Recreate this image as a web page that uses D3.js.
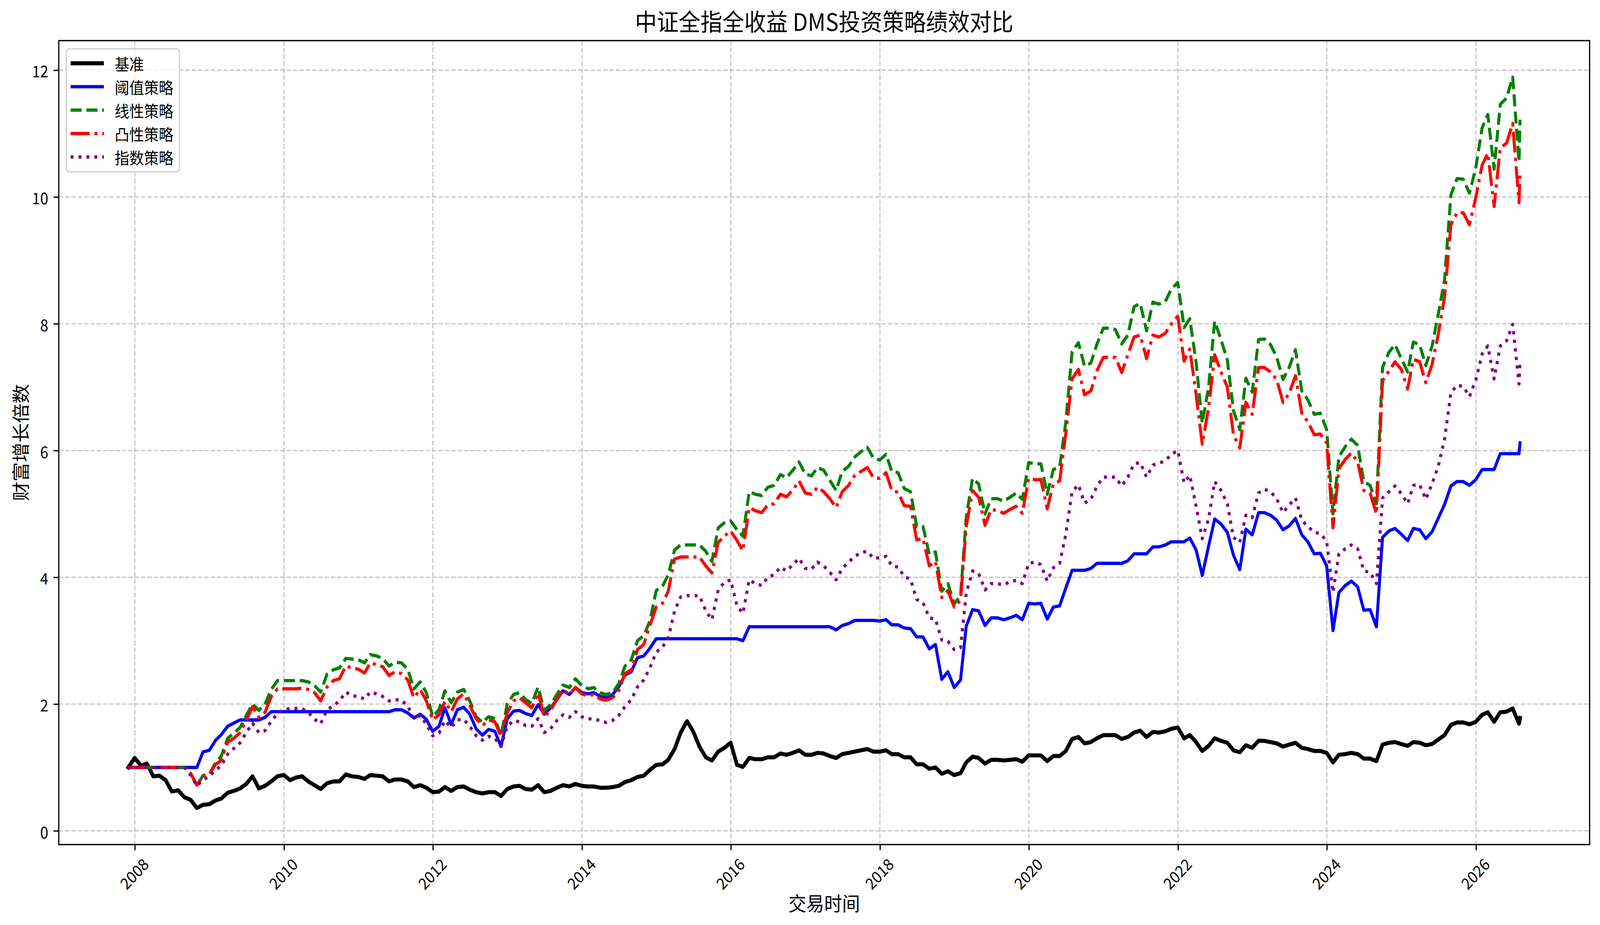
<!DOCTYPE html>
<html>
<head>
<meta charset="utf-8">
<script src="https://cdn.jsdelivr.net/npm/d3@7/dist/d3.min.js"></script>
<style>
  html, body { margin: 0; padding: 0; background: #ffffff; width: 100%; height: 100%; overflow: hidden; }
  svg { display: block; width: 100vw; height: 100vh; }
  text { font-family: "Noto Sans CJK SC", "Noto Sans", sans-serif; fill: #000; }
</style>
</head>
<body>
<svg id="chart"></svg>
<script>
// ---------------- DATA ----------------
const titleText = "中证全指全收益 DMS投资策略绩效对比";
const xLabelText = "交易时间";
const yLabelText = "财富增长倍数";
const seriesNames = ["基准", "阈值策略", "线性策略", "凸性策略", "指数策略"];
const seriesColors = ["#000000", "#0000ff", "#008000", "#ff0000", "#800080"];

// monthly observations (month-end) from 2007-11 to 2026-07, plus a final observation
const firstMonthEnd = [2007, 11];
const lastMonthEnd = [2026, 7];
const finalDate = "2026-08-05";

const yTickValues = [0, 2, 4, 6, 8, 10, 12];
const xTickYears = [2008, 2010, 2012, 2014, 2016, 2018, 2020, 2022, 2024, 2026];

const benchmark = [
  1.00,1.15,
  1.03,1.06,0.86,0.87,0.80,0.62,0.64,0.53,0.49,0.36,0.41,0.42,
  0.48,0.51,0.60,0.63,0.67,0.74,0.86,0.67,0.71,0.78,0.86,0.88,
  0.80,0.84,0.86,0.78,0.72,0.66,0.75,0.78,0.78,0.89,0.86,0.85,
  0.82,0.88,0.87,0.86,0.78,0.81,0.81,0.78,0.69,0.72,0.68,0.61,
  0.62,0.69,0.63,0.69,0.70,0.65,0.61,0.59,0.61,0.61,0.55,0.66,
  0.70,0.71,0.66,0.65,0.72,0.61,0.63,0.68,0.72,0.70,0.74,0.71,
  0.70,0.70,0.68,0.68,0.69,0.71,0.77,0.80,0.85,0.87,0.96,1.04,
  1.05,1.12,1.29,1.55,1.73,1.57,1.33,1.16,1.11,1.25,1.31,1.39,
  1.04,1.01,1.15,1.13,1.13,1.16,1.16,1.22,1.20,1.23,1.27,1.20,
  1.20,1.23,1.22,1.18,1.15,1.21,1.23,1.25,1.27,1.29,1.25,1.25,
  1.27,1.21,1.21,1.16,1.16,1.05,1.05,0.98,1.00,0.90,0.94,0.88,
  0.91,1.08,1.17,1.15,1.06,1.12,1.12,1.11,1.12,1.13,1.09,1.19,
  1.19,1.19,1.10,1.18,1.18,1.26,1.45,1.48,1.38,1.40,1.46,1.51,
  1.51,1.51,1.45,1.48,1.55,1.58,1.48,1.56,1.55,1.57,1.61,1.63,
  1.46,1.51,1.40,1.26,1.34,1.46,1.42,1.39,1.27,1.24,1.35,1.31,
  1.42,1.42,1.40,1.38,1.33,1.36,1.39,1.31,1.29,1.26,1.26,1.23,
  1.08,1.20,1.21,1.23,1.21,1.14,1.14,1.10,1.36,1.39,1.40,1.37,
  1.34,1.40,1.39,1.35,1.37,1.44,1.51,1.67,1.71,1.71,1.68,1.72,
  1.83,1.87,1.72,1.87,1.88,1.93,1.69,1.78
];

const thresholdStrategy = [
  1.00,1.00,
  1.00,1.00,1.00,1.00,1.00,1.00,1.00,1.00,1.00,1.00,1.245,1.27,
  1.43,1.52,1.65,1.70,1.75,1.75,1.75,1.75,1.79,1.88,1.88,1.88,
  1.88,1.88,1.88,1.88,1.88,1.88,1.88,1.88,1.88,1.88,1.88,1.88,
  1.88,1.88,1.88,1.88,1.88,1.91,1.91,1.86,1.78,1.84,1.76,1.57,
  1.65,1.94,1.68,1.91,1.95,1.84,1.61,1.51,1.60,1.57,1.33,1.77,
  1.89,1.90,1.85,1.82,1.99,1.84,1.94,2.07,2.21,2.15,2.26,2.18,
  2.16,2.18,2.12,2.10,2.15,2.27,2.46,2.51,2.73,2.76,2.88,3.03,
  3.03,3.03,3.03,3.03,3.03,3.03,3.03,3.03,3.03,3.03,3.03,3.03,
  3.03,3.00,3.22,3.22,3.22,3.22,3.22,3.22,3.22,3.22,3.22,3.22,
  3.22,3.22,3.22,3.22,3.17,3.24,3.27,3.32,3.32,3.32,3.32,3.31,
  3.33,3.25,3.25,3.20,3.19,3.06,3.06,2.87,2.94,2.39,2.51,2.26,
  2.38,3.23,3.49,3.47,3.24,3.36,3.36,3.33,3.36,3.40,3.33,3.59,
  3.58,3.59,3.34,3.53,3.55,3.83,4.11,4.11,4.11,4.14,4.22,4.22,
  4.22,4.22,4.22,4.26,4.37,4.37,4.37,4.48,4.48,4.51,4.56,4.56,
  4.56,4.62,4.43,4.03,4.49,4.92,4.84,4.71,4.35,4.12,4.76,4.67,
  5.02,5.02,4.98,4.90,4.75,4.81,4.93,4.67,4.56,4.37,4.38,4.18,
  3.16,3.76,3.87,3.94,3.85,3.48,3.49,3.22,4.63,4.73,4.77,4.68,
  4.58,4.77,4.75,4.61,4.72,4.93,5.15,5.44,5.51,5.51,5.45,5.54,
  5.70,5.70,5.70,5.95,5.95,5.95,5.95,6.12
];

const linearStrategy = [
  1.00,1.00,
  1.00,1.00,1.00,1.00,1.00,1.00,1.00,1.00,0.91,0.72,0.87,0.89,
  1.08,1.18,1.46,1.54,1.63,1.82,2.00,1.90,2.00,2.23,2.37,2.37,
  2.37,2.37,2.37,2.35,2.29,2.19,2.47,2.54,2.57,2.72,2.71,2.70,
  2.65,2.78,2.76,2.72,2.60,2.66,2.65,2.55,2.24,2.35,2.18,1.80,
  1.91,2.21,2.02,2.19,2.23,2.05,1.80,1.71,1.80,1.77,1.50,2.01,
  2.15,2.18,2.07,2.01,2.27,1.90,1.99,2.15,2.30,2.26,2.40,2.29,
  2.24,2.26,2.18,2.15,2.18,2.32,2.60,2.70,3.00,3.08,3.31,3.79,
  3.86,4.04,4.43,4.51,4.51,4.51,4.51,4.41,4.25,4.78,4.86,4.89,
  4.75,4.65,5.35,5.31,5.29,5.42,5.45,5.62,5.57,5.69,5.82,5.63,
  5.60,5.73,5.69,5.53,5.37,5.67,5.75,5.90,5.98,6.05,5.88,5.85,
  5.94,5.67,5.65,5.40,5.35,4.80,4.80,4.36,4.40,3.78,3.90,3.58,
  3.71,4.95,5.56,5.47,5.00,5.24,5.24,5.20,5.26,5.33,5.23,5.81,
  5.79,5.79,5.31,5.70,5.74,6.45,7.56,7.70,7.33,7.38,7.68,7.93,
  7.93,7.91,7.68,7.82,8.27,8.32,7.89,8.34,8.31,8.35,8.55,8.65,
  7.94,8.08,7.39,6.43,7.00,8.04,7.75,7.43,6.63,6.33,7.14,6.92,
  7.75,7.76,7.67,7.47,7.12,7.31,7.59,6.94,6.80,6.57,6.59,6.33,
  5.00,5.90,6.06,6.18,6.08,5.51,5.45,5.16,7.31,7.55,7.67,7.45,
  7.24,7.71,7.67,7.34,7.65,8.15,8.69,10.03,10.29,10.28,10.06,10.46,
  11.09,11.30,10.44,11.46,11.56,11.89,10.56,11.22
];

const convexStrategy = [
  1.00,1.00,
  1.00,1.00,1.00,1.00,1.00,1.00,1.00,1.00,0.91,0.72,0.87,0.89,
  1.05,1.11,1.40,1.46,1.55,1.74,1.96,1.79,1.87,2.12,2.24,2.24,
  2.24,2.24,2.25,2.23,2.18,2.05,2.27,2.37,2.40,2.60,2.57,2.55,
  2.49,2.65,2.62,2.59,2.45,2.51,2.48,2.38,2.10,2.23,2.05,1.75,
  1.83,2.04,1.88,2.08,2.16,1.98,1.77,1.66,1.75,1.72,1.49,1.87,
  2.05,2.10,2.02,1.94,2.18,1.80,1.90,2.08,2.23,2.15,2.26,2.16,
  2.13,2.15,2.08,2.06,2.10,2.21,2.48,2.54,2.86,2.94,3.24,3.53,
  3.59,3.78,4.29,4.32,4.32,4.32,4.32,4.18,4.07,4.55,4.65,4.73,
  4.58,4.42,5.10,5.05,5.02,5.14,5.16,5.31,5.27,5.38,5.52,5.33,
  5.31,5.42,5.35,5.24,5.10,5.35,5.45,5.61,5.67,5.73,5.57,5.56,
  5.65,5.37,5.34,5.13,5.12,4.59,4.61,4.18,4.25,3.68,3.79,3.53,
  3.64,4.80,5.37,5.26,4.82,5.07,5.05,5.01,5.07,5.12,5.01,5.56,
  5.54,5.54,5.08,5.47,5.52,6.27,7.13,7.28,6.88,6.94,7.26,7.47,
  7.47,7.47,7.23,7.51,7.79,7.82,7.45,7.82,7.79,7.85,8.00,8.12,
  7.41,7.60,6.88,6.10,6.67,7.51,7.24,7.00,6.25,6.04,6.76,6.57,
  7.31,7.31,7.24,7.12,6.76,6.90,7.18,6.59,6.45,6.25,6.26,6.12,
  4.78,5.71,5.86,5.96,5.82,5.37,5.33,5.00,7.10,7.25,7.40,7.28,
  6.97,7.44,7.40,7.07,7.36,7.83,8.42,9.56,9.75,9.75,9.56,9.99,
  10.50,10.69,9.85,10.77,10.85,11.16,9.91,10.36
];

const exponentialStrategy = [
  1.00,1.00,
  1.00,1.00,1.00,1.00,1.00,1.00,1.00,1.00,0.88,0.71,0.80,0.86,
  0.96,1.03,1.21,1.30,1.39,1.55,1.70,1.55,1.58,1.73,1.85,1.91,
  1.93,1.93,1.93,1.87,1.76,1.69,1.91,1.97,2.05,2.19,2.13,2.12,
  2.08,2.19,2.16,2.12,2.05,2.07,2.06,1.97,1.77,1.82,1.68,1.50,
  1.54,1.74,1.63,1.75,1.76,1.65,1.50,1.43,1.49,1.46,1.33,1.65,
  1.74,1.72,1.66,1.65,1.77,1.55,1.61,1.74,1.83,1.79,1.88,1.80,
  1.77,1.76,1.74,1.71,1.74,1.82,1.96,2.07,2.27,2.38,2.57,2.82,
  2.90,3.04,3.47,3.69,3.71,3.71,3.71,3.47,3.33,3.80,3.92,3.96,
  3.55,3.43,3.96,3.90,3.87,4.00,4.04,4.16,4.10,4.20,4.30,4.14,
  4.13,4.24,4.18,4.08,3.96,4.14,4.24,4.33,4.39,4.41,4.30,4.31,
  4.33,4.18,4.16,4.01,3.97,3.65,3.60,3.36,3.34,3.01,2.99,2.86,
  2.89,3.75,4.10,4.06,3.80,3.90,3.90,3.88,3.93,3.95,3.90,4.22,
  4.24,4.20,3.94,4.15,4.22,4.68,5.35,5.46,5.17,5.23,5.44,5.58,
  5.58,5.58,5.44,5.58,5.79,5.81,5.58,5.77,5.80,5.84,5.94,6.00,
  5.49,5.61,5.12,4.61,4.92,5.51,5.37,5.16,4.63,4.55,4.98,4.94,
  5.33,5.39,5.35,5.24,5.02,5.14,5.25,4.90,4.80,4.71,4.69,4.57,
  3.76,4.37,4.45,4.51,4.45,4.10,4.08,3.90,5.25,5.35,5.44,5.32,
  5.16,5.45,5.46,5.23,5.48,5.75,6.18,6.91,7.03,7.01,6.85,7.11,
  7.52,7.65,7.13,7.65,7.73,7.99,7.05,7.38
];

// ---------------- BUILD ----------------
const W = 4466, H = 2369;
const margin = { left: 164, right: W - 4437, top: 104, bottom: H - 2163 };
const PT = 300 / 72; // px per point

// dates: month ends + final
const monthStarts = d3.timeMonth.range(
  new Date(firstMonthEnd[0], firstMonthEnd[1], 1),
  new Date(lastMonthEnd[0], lastMonthEnd[1], 2)
);
const dates = monthStarts.map(d => d3.timeDay.offset(d, -1));
dates.push(d3.timeParse("%Y-%m-%d")(finalDate));

const allSeries = [benchmark, thresholdStrategy, linearStrategy, convexStrategy, exponentialStrategy];
const styles = [
  { width: 2.5 * PT, dash: null },
  { width: 2 * PT, dash: null },
  { width: 2 * PT, dash: [3.7, 1.6].map(v => v * 2 * PT).join(",") },
  { width: 2 * PT, dash: [6.4, 1.6, 1, 1.6].map(v => v * 2 * PT).join(",") },
  { width: 2 * PT, dash: [1, 1.65].map(v => v * 2 * PT).join(",") }
];

const svg = d3.select("#chart")
  .attr("viewBox", `0 0 ${W} ${H}`)
  .attr("preserveAspectRatio", "none");
svg.append("rect").attr("width", W).attr("height", H).attr("fill", "#fff");

const plotL = margin.left, plotR = W - margin.right, plotT = margin.top, plotB = H - margin.bottom;

// x domain with 5% padding (matplotlib default)
const xExt = d3.extent(dates);
const xSpan = xExt[1] - xExt[0];
const x = d3.scaleTime()
  .domain([new Date(+xExt[0] - 0.05 * xSpan), new Date(+xExt[1] + 0.05 * xSpan)])
  .range([plotL, plotR]);

const allVals = allSeries.flat();
const yMin = d3.min(allVals), yMax = d3.max(allVals);
const ySpan = yMax - yMin;
const y = d3.scaleLinear()
  .domain([yMin - 0.05 * ySpan, yMax + 0.05 * ySpan])
  .range([plotB, plotT]);

const xTickDates = xTickYears.map(yr => new Date(yr, 0, 1));

// clip
svg.append("defs").append("clipPath").attr("id", "plotclip")
  .append("rect").attr("x", plotL).attr("y", plotT)
  .attr("width", plotR - plotL).attr("height", plotB - plotT);

// grid
const gridStyle = g => g.attr("stroke", "#b0b0b0").attr("stroke-opacity", 0.7)
  .attr("stroke-width", 0.8 * PT)
  .attr("stroke-dasharray", [3.7, 1.6].map(v => v * 0.8 * PT).join(","));
const grid = svg.append("g");
grid.selectAll("line.gx").data(xTickDates).enter().append("line")
  .attr("x1", d => x(d)).attr("x2", d => x(d)).attr("y1", plotT).attr("y2", plotB)
  .call(gridStyle);
grid.selectAll("line.gy").data(yTickValues).enter().append("line")
  .attr("x1", plotL).attr("x2", plotR).attr("y1", d => y(d)).attr("y2", d => y(d))
  .call(gridStyle);

// lines
const lineGen = d3.line().x((d, i) => x(dates[i])).y(d => y(d));
const linesG = svg.append("g").attr("clip-path", "url(#plotclip)");
allSeries.forEach((s, k) => {
  const p = linesG.append("path").datum(s)
    .attr("d", lineGen)
    .attr("fill", "none")
    .attr("stroke", seriesColors[k])
    .attr("stroke-width", styles[k].width)
    .attr("stroke-linejoin", "round")
    .attr("stroke-linecap", styles[k].dash ? "butt" : "square");
  if (styles[k].dash) p.attr("stroke-dasharray", styles[k].dash);
});

// axes via d3
const tickLen = 3.5 * PT, tickPad = 3.5 * PT;
const xAxis = d3.axisBottom(x).tickValues(xTickDates).tickFormat(d3.timeFormat("%Y"))
  .tickSize(tickLen).tickPadding(tickPad);
const yAxis = d3.axisLeft(y).tickValues(yTickValues).tickFormat(d3.format("d"))
  .tickSize(tickLen).tickPadding(tickPad);

const gx = svg.append("g").attr("transform", `translate(0,${plotB})`).call(xAxis);
const gy = svg.append("g").attr("transform", `translate(${plotL},0)`).call(yAxis);
[gx, gy].forEach(g => {
  g.select(".domain").remove();
  g.selectAll(".tick line").attr("stroke", "#000").attr("stroke-width", 0.8 * PT);
  g.selectAll(".tick text").attr("font-size", 41).attr("fill", "#000")
    .attr("font-family", "'Noto Sans CJK SC', sans-serif");
});
gx.selectAll(".tick text")
  .attr("y", null).attr("dy", null)
  .attr("text-anchor", "middle")
  .attr("dominant-baseline", "central")
  .attr("transform", "translate(-4,73) rotate(-45)");
gy.selectAll(".tick text").attr("dominant-baseline", "central").attr("dy", null);

// spines
svg.append("rect").attr("x", plotL).attr("y", plotT)
  .attr("width", plotR - plotL).attr("height", plotB - plotT)
  .attr("fill", "none").attr("stroke", "#000").attr("stroke-width", 0.8 * PT);

// title & labels
svg.append("text").attr("x", (plotL + plotR) / 2).attr("y", 79)
  .attr("text-anchor", "middle").attr("font-size", 61).text(titleText);
svg.append("text").attr("x", (plotL + plotR) / 2).attr("y", 2333)
  .attr("text-anchor", "middle").attr("font-size", 50).text(xLabelText);
svg.append("text").attr("transform", `translate(76,${(plotT + plotB) / 2}) rotate(-90)`)
  .attr("text-anchor", "middle").attr("font-size", 50).text(yLabelText);

// legend
const lg = svg.append("g");
lg.append("rect").attr("x", 185).attr("y", 125).attr("width", 316).attr("height", 315)
  .attr("rx", 9).attr("ry", 9)
  .attr("fill", "#ffffff").attr("fill-opacity", 0.8)
  .attr("stroke", "#cccccc").attr("stroke-opacity", 0.8).attr("stroke-width", 1 * PT);
seriesNames.forEach((name, k) => {
  const cy = 162 + k * 60;
  const l = lg.append("line").attr("x1", 197).attr("x2", 290).attr("y1", cy).attr("y2", cy)
    .attr("stroke", seriesColors[k]).attr("stroke-width", styles[k].width)
    .attr("stroke-linecap", "butt");
  if (styles[k].dash) l.attr("stroke-dasharray", styles[k].dash);
  lg.append("text").attr("x", 320).attr("y", cy).attr("dominant-baseline", "central")
    .attr("font-size", 41).text(name);
});
</script>
</body>
</html>
